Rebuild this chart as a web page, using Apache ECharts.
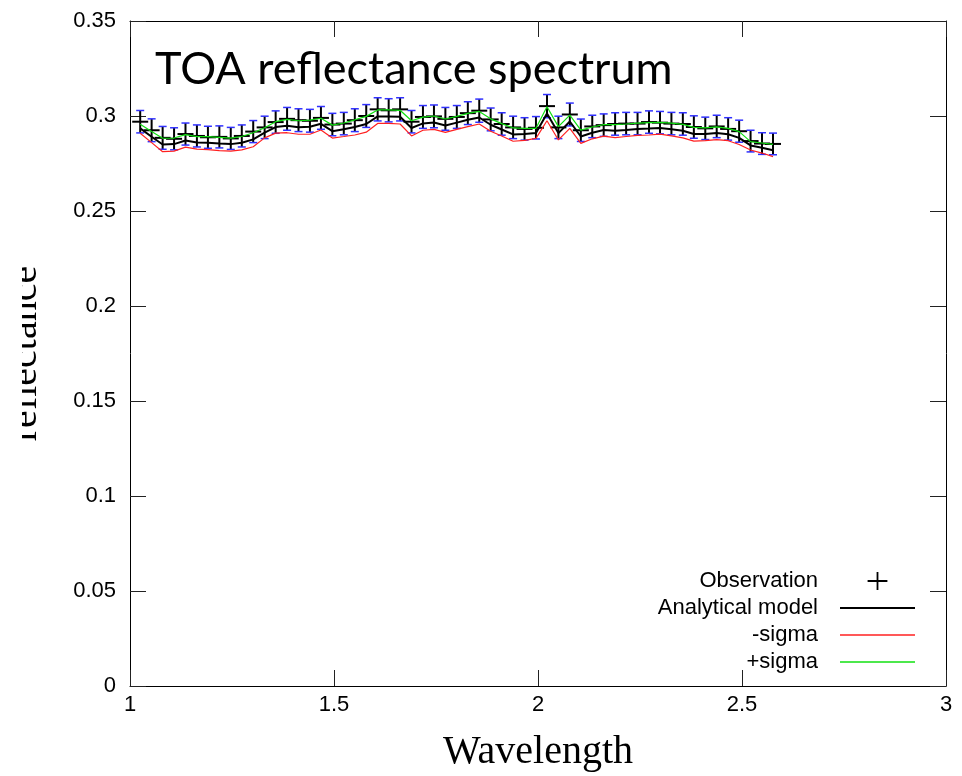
<!DOCTYPE html>
<html><head><meta charset="utf-8">
<script src="https://cdn.jsdelivr.net/npm/echarts@6/dist/echarts.min.js"></script>
<style>html,body{margin:0;padding:0;background:#fff}#c{width:962px;height:776px}</style>
</head><body><div id="c"></div>
<script>
const wavelength = [1.025,1.053,1.080,1.108,1.136,1.164,1.191,1.219,1.247,1.274,1.302,1.330,1.357,1.385,1.413,1.441,1.468,1.496,1.524,1.551,1.579,1.607,1.634,1.662,1.690,1.718,1.745,1.773,1.801,1.828,1.856,1.884,1.911,1.939,1.967,1.995,2.022,2.050,2.078,2.105,2.133,2.161,2.189,2.216,2.244,2.272,2.299,2.327,2.355,2.382,2.410,2.438,2.466,2.493,2.521,2.549,2.576];
const observation = [0.2970,0.2925,0.2885,0.2880,0.2905,0.2895,0.2888,0.2890,0.2882,0.2895,0.2918,0.2940,0.2968,0.2985,0.2978,0.2975,0.2990,0.2955,0.2960,0.2978,0.3000,0.3035,0.3030,0.3035,0.2970,0.2995,0.2998,0.2985,0.2995,0.3015,0.3028,0.2982,0.2958,0.2940,0.2932,0.2938,0.3052,0.2940,0.3008,0.2925,0.2945,0.2952,0.2958,0.2960,0.2960,0.2968,0.2965,0.2960,0.2958,0.2942,0.2935,0.2945,0.2932,0.2920,0.2868,0.2855,0.2853];
const obsError = [0.0059,0.0060,0.0060,0.0058,0.0058,0.0058,0.0058,0.0058,0.0058,0.0058,0.0058,0.0059,0.0059,0.0060,0.0060,0.0060,0.0060,0.0059,0.0059,0.0060,0.0060,0.0061,0.0061,0.0061,0.0059,0.0060,0.0060,0.0060,0.0060,0.0060,0.0061,0.0060,0.0059,0.0059,0.0059,0.0059,0.0061,0.0059,0.0060,0.0059,0.0059,0.0059,0.0059,0.0059,0.0059,0.0059,0.0059,0.0059,0.0059,0.0059,0.0059,0.0059,0.0059,0.0058,0.0057,0.0057,0.0057];
const model = [0.2935,0.2891,0.2850,0.2852,0.2871,0.2861,0.2859,0.2855,0.2852,0.2859,0.2877,0.2913,0.2942,0.2949,0.2941,0.2943,0.2959,0.2920,0.2930,0.2942,0.2958,0.2998,0.2998,0.2996,0.2937,0.2961,0.2966,0.2950,0.2965,0.2980,0.2992,0.2954,0.2929,0.2903,0.2905,0.2910,0.3013,0.2910,0.2971,0.2892,0.2912,0.2926,0.2922,0.2926,0.2931,0.2934,0.2937,0.2930,0.2922,0.2905,0.2905,0.2911,0.2904,0.2885,0.2845,0.2833,0.2820];
const minusSigma = [0.2909,0.2860,0.2812,0.2815,0.2836,0.2826,0.2823,0.2818,0.2815,0.2822,0.2838,0.2885,0.2910,0.2912,0.2904,0.2904,0.2926,0.2884,0.2892,0.2900,0.2915,0.2961,0.2961,0.2958,0.2895,0.2925,0.2930,0.2914,0.2930,0.2944,0.2958,0.2920,0.2895,0.2867,0.2872,0.2882,0.2975,0.2874,0.2935,0.2856,0.2880,0.2894,0.2886,0.2892,0.2898,0.2900,0.2905,0.2895,0.2885,0.2868,0.2870,0.2876,0.2870,0.2850,0.2821,0.2805,0.2786];
const plusSigma = [0.2956,0.2918,0.2883,0.2884,0.2902,0.2891,0.2891,0.2888,0.2884,0.2892,0.2912,0.2938,0.2970,0.2982,0.2975,0.2978,0.2988,0.2952,0.2963,0.2980,0.2998,0.3032,0.3032,0.3030,0.2975,0.2994,0.3000,0.2984,0.2998,0.3014,0.3024,0.2985,0.2960,0.2937,0.2935,0.2935,0.3049,0.2944,0.3005,0.2926,0.2942,0.2955,0.2955,0.2958,0.2962,0.2965,0.2966,0.2962,0.2956,0.2940,0.2938,0.2943,0.2935,0.2918,0.2865,0.2858,0.2851];
const seriesNames = ['Observation','Analytical model','-sigma','+sigma'];

function pairs(ys){ return wavelength.map(function(w,i){ return [w, ys[i]]; }); }

const chart = echarts.init(document.getElementById('c'), null, {renderer:'canvas'});
const tickFont = {color:'#000', fontSize:22, fontFamily:'Liberation Sans'};
function axisCommon(extra){
  return Object.assign({
    type:'value',
    axisLine:{show:true, onZero:false, lineStyle:{color:'#000', width:1}},
    axisTick:{show:true, inside:true, length:16, lineStyle:{color:'#222', width:1}},
    splitLine:{show:false}
  }, extra);
}
const option = {
  animation:false,
  backgroundColor:'#fff',
  title:{text:'TOA reflectance spectrum', left:150, top:42,
    textStyle:{fontFamily:'Lato', fontWeight:'normal', fontSize:45, color:'#000'}},
  grid:{left:130, right:16, top:21, bottom:90, containLabel:false, outerBoundsMode:'none'},
  xAxis:[
    axisCommon({min:1, max:3, interval:0.5, position:'bottom',
      axisLabel:Object.assign({margin:8}, tickFont),
      name:'Wavelength', nameLocation:'middle', nameGap:46,
      nameTextStyle:{fontFamily:'Liberation Serif', fontSize:40, color:'#000'}}),
    axisCommon({min:1, max:3, interval:0.5, position:'top', axisLabel:{show:false}})
  ],
  yAxis:[
    axisCommon({min:0, max:0.35, interval:0.05, position:'left',
      axisLabel:Object.assign({margin:14}, tickFont),
      name:'reflectance', nameLocation:'middle', nameRotate:90, nameGap:85,
      nameTextStyle:{fontFamily:'Liberation Serif', fontSize:40, color:'#000'}}),
    axisCommon({min:0, max:0.35, interval:0.05, position:'right', axisLabel:{show:false}})
  ],
  legend:{orient:'vertical', right:42, top:565, align:'right', itemWidth:75, itemHeight:18, itemGap:5,
    textStyle:{fontFamily:'Liberation Sans', fontSize:22, lineHeight:22, color:'#000', width:175, align:'right', padding:[0,17,0,0]},
    data:[
      {name:seriesNames[0], icon:'path://M0,9L22,9L22,11L0,11ZM10,0L12,0L12,20L10,20Z'},
      {name:seriesNames[1], icon:'path://M0,0L75,0L75,2L0,2Z'},
      {name:seriesNames[2], icon:'path://M0,0L75,0L75,1.3L0,1.3Z'},
      {name:seriesNames[3], icon:'path://M0,0L75,0L75,1.3L0,1.3Z'}
    ]},
  graphic:[{type:'rect', left:0, top:240, shape:{width:22, height:230}, style:{fill:'#fff'}, z:100}],
  series:[
    {name:seriesNames[0], type:'custom', clip:false, itemStyle:{color:'#000'},
      data:wavelength.map(function(w,i){ return [w, observation[i], obsError[i]]; }),
      encode:{x:0, y:1},
      renderItem:function(params, api){
        const x = api.value(0), y = api.value(1), e = api.value(2);
        const c = api.coord([x, y]);
        const t = api.coord([x, y + e]);
        const b = api.coord([x, y - e]);
        const cap = 4, arm = 8;
        return {type:'group', children:[
          {type:'line', shape:{x1:c[0], y1:t[1], x2:c[0], y2:b[1]}, style:{stroke:'#000', lineWidth:2}},
          {type:'line', shape:{x1:c[0]-cap, y1:t[1], x2:c[0]+cap, y2:t[1]}, style:{stroke:'#3030ff', lineWidth:1.5}},
          {type:'line', shape:{x1:c[0]-cap, y1:b[1], x2:c[0]+cap, y2:b[1]}, style:{stroke:'#3030ff', lineWidth:1.5}},
          {type:'line', shape:{x1:c[0]-arm, y1:c[1], x2:c[0]+arm, y2:c[1]}, style:{stroke:'#000', lineWidth:2}}
        ]};
      }},
    {name:seriesNames[1], type:'line', data:pairs(model), symbol:'none', lineStyle:{color:'#000', width:2}, itemStyle:{color:'#000'}},
    {name:seriesNames[2], type:'line', data:pairs(minusSigma), symbol:'none', lineStyle:{color:'#ff2020', width:1.2}, itemStyle:{color:'#ff2020'}},
    {name:seriesNames[3], type:'line', data:pairs(plusSigma), symbol:'none', lineStyle:{color:'#10e010', width:1.2}, itemStyle:{color:'#10e010'}}
  ]
};
chart.setOption(option);
</script></body></html>
